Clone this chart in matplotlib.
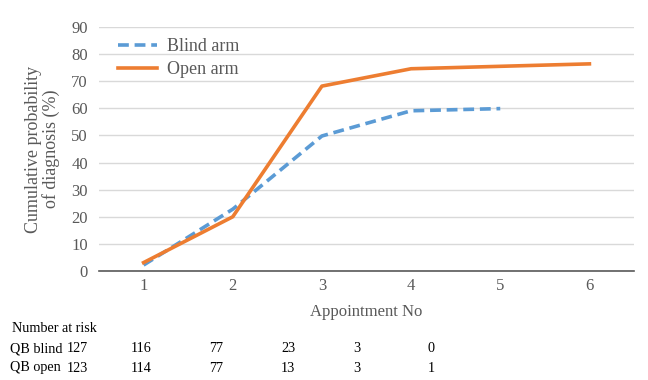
import matplotlib
matplotlib.use("Agg")
import matplotlib.pyplot as plt

appointments = [1, 2, 3, 4, 5, 6]
blind_arm = [2.2, 22.8, 49.8, 59.1, 59.9]
open_arm = [3.1, 20.0, 68.2, 74.6, 75.5, 76.4]
yticks = [0, 10, 20, 30, 40, 50, 60, 70, 80, 90]
risk_blind = [127, 116, 77, 23, 3, 0]
risk_open = [123, 114, 77, 13, 3, 1]

plt.rcParams['font.family'] = ['Liberation Serif', 'DejaVu Serif']

fig = plt.figure(figsize=(6.48, 3.8), dpi=100)
ax = fig.add_axes([99/648, 1-271/380, (634-99)/648, (271-27)/380])

ax.plot(appointments[:len(blind_arm)], blind_arm, color='#5B9BD5', lw=2.6,
        linestyle=(0, (3, 1.6)), label='Blind arm', dash_capstyle='butt')
ax.plot(appointments, open_arm, color='#ED7D31', lw=2.6, label='Open arm')

ax.set_xlim(0.5, 6.5)
ax.set_ylim(0, 90)
ax.set_yticks(yticks)
ax.set_xticks(appointments)
ax.grid(axis='y', color='#d9d9d9', lw=1)
ax.set_axisbelow(True)
for s in ['top', 'right', 'left']:
    ax.spines[s].set_visible(False)
ax.spines['bottom'].set_color('#595959')
ax.spines['bottom'].set_linewidth(1.2)
ax.tick_params(axis='y', length=0, labelsize=12, colors='#595959', pad=8)
ax.tick_params(axis='x', length=0, labelsize=12, colors='#595959', pad=5)
ax.set_xlabel('Appointment No', fontsize=12, color='#595959', labelpad=7)
ax.set_ylabel('Cumulative probability\nof diagnosis (%)', fontsize=13, color='#595959',
              labelpad=8, linespacing=1.0)

leg = ax.legend(loc='upper left', bbox_to_anchor=(6/535, 1.005), frameon=False,
                fontsize=13, handlelength=2.2, labelcolor='#595959',
                borderaxespad=0.3, handletextpad=0.55, labelspacing=0.3)

W, H = 648, 380
fs = 10.2
fig.text(12/W, 1-328/H, 'Number at risk', fontsize=fs, va='center', ha='left')
fig.text(10/W, 1-349/H, 'QB blind', fontsize=fs, va='center', ha='left')
fig.text(10/W, 1-368/H, 'QB open', fontsize=fs, va='center', ha='left')
xs = [77, 141, 216, 288, 357, 431]
for x, b, o in zip(xs, risk_blind, risk_open):
    fig.text(x/W, 1-349/H, str(b), fontsize=fs, va='center', ha='center')
    fig.text(x/W, 1-368/H, str(o), fontsize=fs, va='center', ha='center')

fig.savefig('out.png', dpi=100)
